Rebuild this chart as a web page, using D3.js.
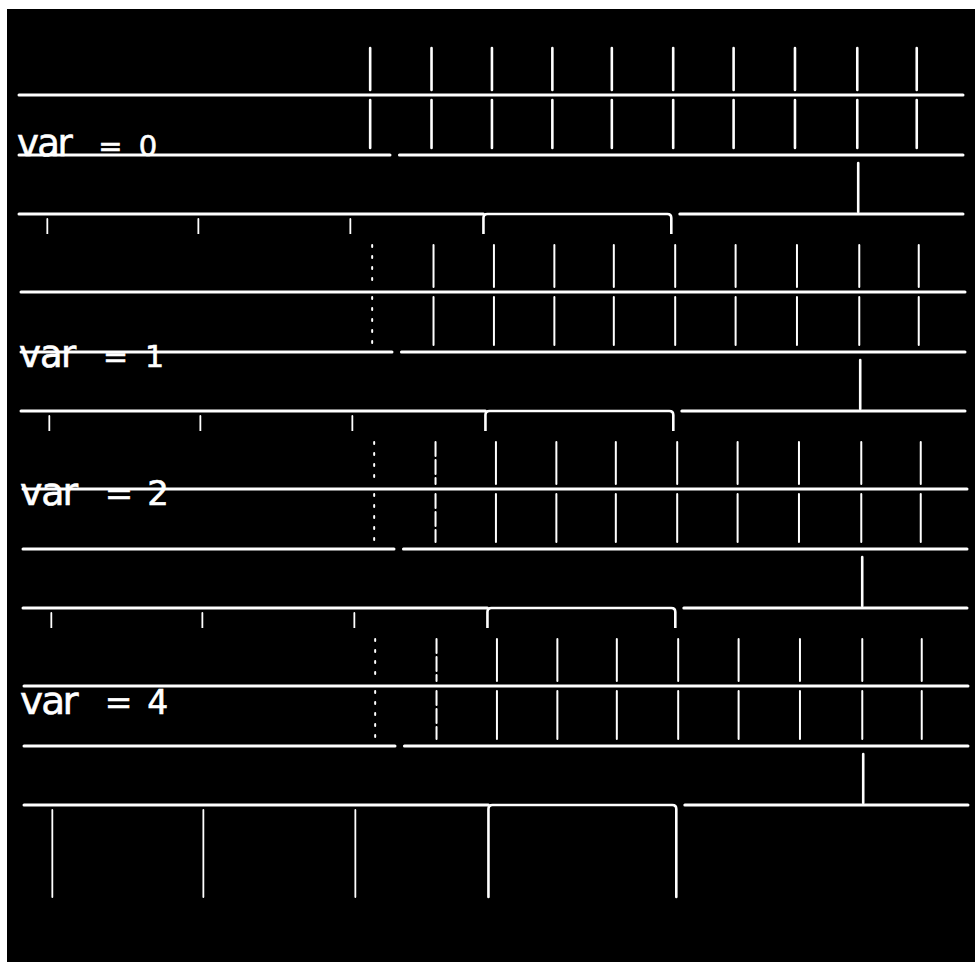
<!DOCTYPE html>
<html>
<head>
<meta charset="utf-8">
<script src="https://cdnjs.cloudflare.com/ajax/libs/d3/7.8.5/d3.min.js"></script>
<style>
  html, body { margin: 0; padding: 0; background: #fff; }
  svg { display: block; }
</style>
</head>
<body>
<div id="chart"></div>
<script>
// one panel per value of var, top to bottom
var panelLabels = ["var = 0", "var = 1", "var = 2", "var = 4"];

// time axis runs 0..1000
var pulseTimes = [372, 437, 501, 565, 628, 693, 757, 822, 888, 951]; // spikes on the top trace
var markTime = 889;            // the one spike on the bottom trace
var barTimes = [30, 190, 351]; // thin bars hanging under the bottom trace
var wideBar = [492, 691];      // the wide bar under the bottom trace
var midGap = [393, 403];       // break in the middle trace
var lowGap = [691, 700];       // break in the bottom trace, right after the wide bar
// pulses that came out faint (dotted) in each panel
var dimPulses = [[], [0], [0, 1], [0, 1]];

var width = 975, height = 962;

// the scan is a little skewed, later panels sit a few px to the right
var panelShift = [0, 2, 4, 5];
var labelBase = [61, 75, 16, 28];   // label baseline below the top trace
var labelStart = [17, 17, 16, 15];
var labelPitch = [20.3, 21, 21.2, 21.2]; // the capture font is fixed pitch
var varSize = [37, 37, 38, 39];
var numSize = [29, 30, 34, 33];

var svg = d3.select("#chart").append("svg")
    .attr("width", width)
    .attr("height", height);

// paper + black screen capture
svg.append("rect").attr("width", width).attr("height", height).attr("fill", "#fff");
svg.append("rect")
    .attr("x", 7).attr("y", 9)
    .attr("width", width - 7).attr("height", height - 9)
    .attr("fill", "#000");

var x = d3.scaleLinear().domain([0, 1000]).range([19, 963]);
// y of each panel's top trace
var panelY = d3.scaleLinear().domain([0, 3]).range([95, 686]);
// trace offsets inside one panel
var traceY = d3.scaleOrdinal().domain(["pulse", "mid", "low"]).range([0, 60, 119]);

var barDrop = 92; // how far the bars hang under the bottom trace

function clipTop(i) {
    return i == 0 ? 9 : panelY(i) - 58;
}
function clipBottom(i) {
    return i == panelLabels.length - 1 ? height : panelY(i + 1) - 58;
}

var defs = svg.append("defs");

panelLabels.forEach(function(label, i) {
    defs.append("clipPath").attr("id", "clip" + i)
      .append("rect")
        .attr("x", 0).attr("y", clipTop(i))
        .attr("width", width).attr("height", clipBottom(i) - clipTop(i));

    var g = svg.append("g")
        .attr("clip-path", "url(#clip" + i + ")")
      .append("g")
        .attr("transform", "translate(" + panelShift[i] + "," + panelY(i) + ")")
        .attr("stroke", "#fff")
        .attr("fill", "none")
        .attr("stroke-linecap", "round");

    var yP = traceY("pulse"), yM = traceY("mid"), yL = traceY("low");

    // top trace with the pulses through it
    g.append("line")
        .attr("x1", x(0)).attr("x2", x(1000))
        .attr("y1", yP).attr("y2", yP)
        .attr("stroke-width", 3);

    var pulse = g.selectAll(".pulse")
        .data(pulseTimes)
        .enter().append("g")
        .attr("class", "pulse")
        .attr("stroke-width", i == 0 ? 2.6 : 2)
        .attr("stroke-dasharray", function(d, k) {
            if (dimPulses[i].indexOf(k) < 0) return null;
            return k == 0 ? "2,9" : "14,4";
        });
    pulse.append("line")
        .attr("x1", function(d) { return x(d); })
        .attr("x2", function(d) { return x(d); })
        .attr("y1", yP - 47).attr("y2", yP - 5);
    pulse.append("line")
        .attr("x1", function(d) { return x(d); })
        .attr("x2", function(d) { return x(d); })
        .attr("y1", yP + 5).attr("y2", yP + 53);

    // middle trace, broken once
    g.selectAll(".mid")
        .data([[0, midGap[0]], [midGap[1], 1000]])
        .enter().append("line")
        .attr("class", "mid")
        .attr("x1", function(d) { return x(d[0]); })
        .attr("x2", function(d) { return x(d[1]); })
        .attr("y1", yM).attr("y2", yM)
        .attr("stroke-width", 3);

    // bottom trace
    g.selectAll(".low")
        .data([[0, wideBar[0]], [lowGap[1], 1000]])
        .enter().append("line")
        .attr("class", "low")
        .attr("x1", function(d) { return x(d[0]); })
        .attr("x2", function(d) { return x(d[1]); })
        .attr("y1", yL).attr("y2", yL)
        .attr("stroke-width", 3);

    // wide bar, open at the bottom
    var x0 = x(wideBar[0]), x1 = x(wideBar[1]);
    g.append("path")
        .attr("d", "M" + x0 + "," + (yL + barDrop) +
                   "V" + (yL + 4) + "Q" + x0 + "," + yL + " " + (x0 + 4) + "," + yL +
                   "H" + (x1 - 4) + "Q" + x1 + "," + yL + " " + x1 + "," + (yL + 4) +
                   "V" + (yL + barDrop))
        .attr("stroke-width", 2.6);

    // thin bars
    g.selectAll(".bar")
        .data(barTimes)
        .enter().append("line")
        .attr("class", "bar")
        .attr("x1", function(d) { return x(d); })
        .attr("x2", function(d) { return x(d); })
        .attr("y1", yL + 5).attr("y2", yL + barDrop)
        .attr("stroke-width", 1.8);

    // the marked spike
    g.append("line")
        .attr("x1", x(markTime)).attr("x2", x(markTime))
        .attr("y1", yL - 51).attr("y2", yL - 2)
        .attr("stroke-width", 2.6);

    // label: fixed pitch, "var" drawn taller than the rest like in the capture
    var head = label.slice(0, 3), tail = label.slice(3);
    var pos = function(k) { return labelStart[i] + k * labelPitch[i]; };
    var text = g.append("text")
        .attr("y", labelBase[i])
        .attr("fill", "#fff")
        .attr("stroke", "#fff")
        .attr("stroke-width", 0.6)
        .attr("font-family", "'DejaVu Sans', sans-serif");
    text.append("tspan")
        .attr("x", d3.range(head.length).map(pos).join(" "))
        .attr("font-size", varSize[i])
        .text(head);
    text.append("tspan")
        .attr("x", d3.range(head.length, label.length).map(pos).join(" "))
        .attr("font-size", numSize[i])
        .text(tail);
});
</script>
</body>
</html>
